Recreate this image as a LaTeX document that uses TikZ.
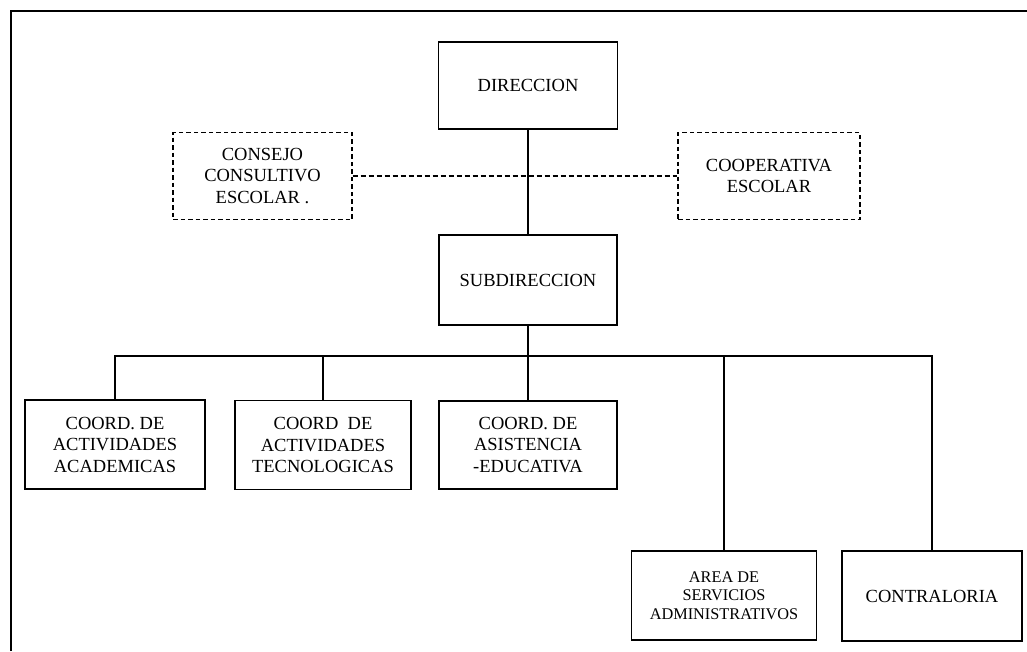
\documentclass[tikz,border=0pt]{standalone}
\usepackage{fontspec}
\setmainfont{Liberation Serif}
\begin{document}
\begin{tikzpicture}[x=1pt,y=-1pt,
  box/.style={draw, line width=1.4pt, rectangle, align=center, inner sep=2pt,
    font=\fontsize{18.5}{21.5}\selectfont},
  dbox/.style={box, dash pattern=on 4.5pt off 3pt},
  conn/.style={line width=1.4pt},
  dconn/.style={line width=1.4pt, dash pattern=on 5pt off 3pt}]
\useasboundingbox (0,0) rectangle (1027,651);
\draw[line width=1.4pt] (11,651) -- (11,11) -- (1027,11);

\node[box, minimum width=179pt, minimum height=87pt] (dir) at (528,85.5) {DIRECCION};
\node[dbox, minimum width=179pt, minimum height=87pt] (consejo) at (262.5,176) {CONSEJO\\CONSULTIVO\\ESCOLAR .};
\node[dbox, minimum width=182pt, minimum height=87pt] (coop) at (769,176) {COOPERATIVA\\ESCOLAR};
\node[box, minimum width=178pt, minimum height=90pt] (subdir) at (528,280) {SUBDIRECCION};
\node[box, minimum width=180pt, minimum height=89pt] (c1) at (115,444.5) {COORD. DE\\ACTIVIDADES\\ACADEMICAS};
\node[box, minimum width=176pt, minimum height=89pt] (c2) at (323,445) {COORD\ \ DE\\ACTIVIDADES\\TECNOLOGICAS};
\node[box, minimum width=178pt, minimum height=88pt] (c3) at (528,445) {COORD. DE\\ASISTENCIA\\-EDUCATIVA};
\node[box, minimum width=185pt, minimum height=89pt, font=\fontsize{16.3}{18.5}\selectfont] (area) at (724,595.5) {AREA DE\\SERVICIOS\\ADMINISTRATIVOS};
\node[box, minimum width=180pt, minimum height=90pt] (contra) at (932,596) {CONTRALORIA};

\coordinate (busL) at (115,356);
\coordinate (busR) at (932,356);

\draw[conn] (dir.south) -- (subdir.north);
\draw[dconn] (consejo.east) -- (coop.west);
\draw[conn] (subdir.south) -- (c3.north);
\draw[conn] (c1.north) -- (busL) -- (busR) -- (contra.north);
\draw[conn] (c2.north) -- (c2.north |- busL);
\draw[conn] (area.north) -- (area.north |- busL);
\end{tikzpicture}
\end{document}
